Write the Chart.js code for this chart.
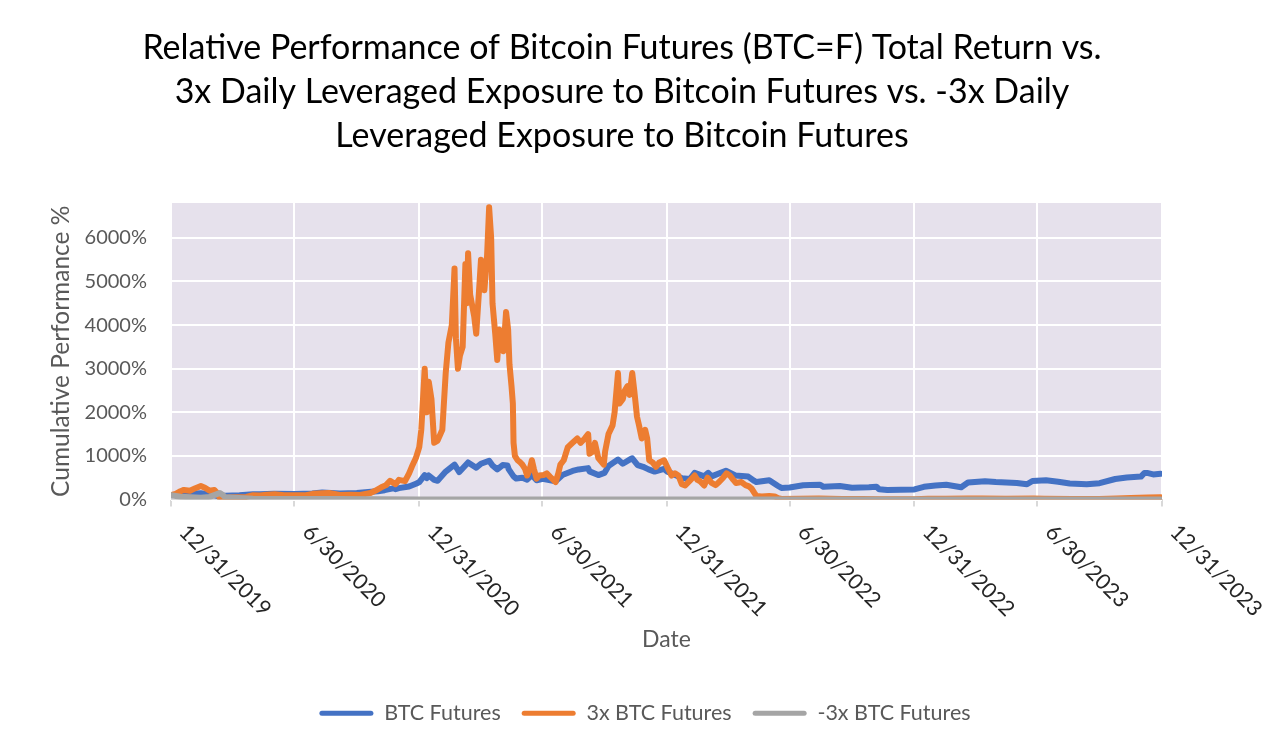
<!DOCTYPE html>
<html>
<head>
<meta charset="utf-8">
<script src="https://cdn.jsdelivr.net/npm/chart.js@4.4.1/dist/chart.umd.min.js"></script>
<style>
html,body{margin:0;padding:0;background:#ffffff;}
#wrap{width:1274px;height:742px;}
</style>
</head>
<body>
<div id="wrap"><canvas id="c" width="1274" height="742"></canvas></div>
<script>
const titleLines = [
  "Relative Performance of Bitcoin Futures (BTC=F) Total Return vs.",
  "3x Daily Leveraged Exposure to Bitcoin Futures vs. -3x Daily",
  "Leveraged Exposure to Bitcoin Futures"
];
const xTickLabels = ["12/31/2019","6/30/2020","12/31/2020","6/30/2021","12/31/2021","6/30/2022","12/31/2022","6/30/2023","12/31/2023"];
const yTickValues = [0,1000,2000,3000,4000,5000,6000];
const yAxisMax = 6800;
const seriesNames = ["BTC Futures","3x BTC Futures","-3x BTC Futures"];

const btcDates = ["2019-12-31","2020-01-14","2020-02-13","2020-02-26","2020-03-12","2020-03-20","2020-04-10","2020-04-30","2020-05-10","2020-05-31","2020-06-30","2020-07-26","2020-08-10","2020-09-05","2020-09-30","2020-10-21","2020-10-31","2020-11-10","2020-11-24","2020-11-26","2020-12-01","2020-12-16","2020-12-27","2020-12-31","2021-01-08","2021-01-11","2021-01-14","2021-01-22","2021-01-27","2021-02-08","2021-02-21","2021-02-28","2021-03-13","2021-03-25","2021-04-01","2021-04-13","2021-04-18","2021-04-25","2021-05-03","2021-05-10","2021-05-12","2021-05-19","2021-05-23","2021-06-01","2021-06-08","2021-06-15","2021-06-22","2021-07-01","2021-07-20","2021-07-30","2021-08-14","2021-08-23","2021-09-06","2021-09-08","2021-09-21","2021-09-30","2021-10-06","2021-10-20","2021-10-27","2021-11-08","2021-11-10","2021-11-18","2021-11-26","2021-12-04","2021-12-13","2021-12-27","2021-12-31","2022-01-10","2022-01-22","2022-02-03","2022-02-10","2022-02-24","2022-03-02","2022-03-07","2022-03-28","2022-04-11","2022-04-30","2022-05-09","2022-05-12","2022-05-31","2022-06-13","2022-06-18","2022-06-30","2022-07-20","2022-07-30","2022-08-14","2022-08-19","2022-09-12","2022-09-30","2022-10-25","2022-11-05","2022-11-09","2022-11-21","2022-12-31","2023-01-14","2023-01-31","2023-02-16","2023-03-10","2023-03-20","2023-04-14","2023-04-30","2023-05-31","2023-06-15","2023-06-23","2023-07-13","2023-07-31","2023-08-17","2023-09-11","2023-09-30","2023-10-23","2023-11-09","2023-11-30","2023-12-05","2023-12-09","2023-12-18","2023-12-29"];
const btcValues = [100,120,143,120,68,85,95,120,120,132,127,138,163,140,150,178,190,214,260,236,260,300,367,400,560,490,550,450,430,640,800,630,850,730,820,890,780,690,790,780,690,530,480,500,455,560,440,475,415,560,655,690,720,645,560,610,770,915,820,930,945,790,750,690,640,700,645,580,490,470,610,530,610,530,660,550,525,425,400,440,310,265,275,325,330,340,290,310,270,280,295,235,220,230,290,320,340,280,390,420,400,380,350,425,440,405,365,350,375,470,505,525,610,610,575,590];

const lev3Dates = ["2019-12-31","2020-01-07","2020-01-14","2020-01-19","2020-01-28","2020-02-05","2020-02-13","2020-02-19","2020-02-26","2020-03-04","2020-03-08","2020-03-12","2020-03-16","2020-03-25","2020-04-05","2020-04-20","2020-04-30","2020-05-10","2020-05-20","2020-06-01","2020-06-15","2020-06-30","2020-07-15","2020-07-27","2020-08-10","2020-08-20","2020-09-05","2020-09-20","2020-10-05","2020-10-20","2020-10-27","2020-11-05","2020-11-12","2020-11-18","2020-11-26","2020-12-01","2020-12-10","2020-12-16","2020-12-20","2020-12-26","2020-12-31","2021-01-03","2021-01-08","2021-01-11","2021-01-14","2021-01-18","2021-01-22","2021-01-27","2021-02-03","2021-02-08","2021-02-12","2021-02-17","2021-02-21","2021-02-23","2021-02-26","2021-03-01","2021-03-05","2021-03-09","2021-03-11","2021-03-13","2021-03-16","2021-03-22","2021-03-25","2021-03-30","2021-04-01","2021-04-06","2021-04-10","2021-04-13","2021-04-16","2021-04-18","2021-04-22","2021-04-25","2021-04-28","2021-05-01","2021-05-04","2021-05-08","2021-05-11","2021-05-13","2021-05-16","2021-05-18","2021-05-19","2021-05-21","2021-05-25","2021-05-29","2021-06-01","2021-06-05","2021-06-08","2021-06-12","2021-06-15","2021-06-18","2021-06-22","2021-06-26","2021-07-02","2021-07-07","2021-07-12","2021-07-20","2021-07-24","2021-07-27","2021-08-01","2021-08-07","2021-08-14","2021-08-21","2021-08-26","2021-09-01","2021-09-06","2021-09-08","2021-09-13","2021-09-16","2021-09-21","2021-09-29","2021-10-01","2021-10-06","2021-10-12","2021-10-15","2021-10-20","2021-10-22","2021-10-27","2021-10-30","2021-11-03","2021-11-06","2021-11-10","2021-11-13","2021-11-17","2021-11-20","2021-11-24","2021-11-29","2021-12-02","2021-12-05","2021-12-10","2021-12-15","2021-12-20","2021-12-27","2022-01-02","2022-01-07","2022-01-12","2022-01-17","2022-01-22","2022-01-27","2022-02-04","2022-02-10","2022-02-14","2022-02-18","2022-02-24","2022-03-01","2022-03-07","2022-03-13","2022-03-18","2022-03-24","2022-03-29","2022-04-03","2022-04-08","2022-04-12","2022-04-20","2022-04-26","2022-05-01","2022-05-05","2022-05-09","2022-05-12","2022-05-20","2022-05-31","2022-06-08","2022-06-13","2022-06-18","2022-07-15","2022-08-12","2022-09-15","2022-10-15","2022-11-10","2022-12-31","2023-01-20","2023-02-15","2023-03-20","2023-04-10","2023-05-15","2023-06-25","2023-07-10","2023-08-20","2023-09-30","2023-10-25","2023-11-15","2023-12-10","2023-12-29"];
const lev3Values = [100,130,190,220,200,260,310,270,200,220,150,30,25,45,50,60,100,90,110,120,100,95,95,130,145,150,105,110,105,150,200,280,330,430,350,450,420,600,750,950,1200,1600,3000,2000,2700,2300,1300,1350,1600,2900,3600,4000,5300,3700,3000,3300,3500,5400,4500,5650,4700,4200,3800,5000,5500,4800,5600,6700,6000,4500,3800,3200,3900,3600,3400,4300,3900,3100,2600,2200,1300,1000,900,850,800,700,550,700,900,700,480,550,560,600,520,400,600,800,900,1200,1300,1400,1300,1400,1500,1050,1100,1300,950,800,1100,1500,1700,2000,2900,2200,2300,2500,2600,2400,2900,2500,1900,1700,1400,1600,1400,900,850,750,850,900,700,550,600,550,350,320,450,550,450,420,320,500,380,330,400,500,600,550,450,380,400,330,300,250,150,80,70,80,70,30,12,15,22,12,10,7,7,15,18,22,25,18,25,20,12,12,25,35,45,50];

const inv3Dates = ["2019-12-31","2020-01-14","2020-02-13","2020-02-26","2020-03-12","2020-03-16","2020-03-20","2020-04-30","2020-06-30","2020-09-05","2020-10-31","2020-12-31","2021-06-30","2021-12-31","2022-06-30","2022-12-31","2023-06-30","2023-12-29"];
const inv3Values = [100,65,40,60,150,110,50,15,12,14,7,2,1,1,2,2,1,1];

const BASE = Date.UTC(2019, 11, 31);
const DAY = 86400000;
function isoToDay(s) { const p = s.split('-').map(Number); return (Date.UTC(p[0], p[1] - 1, p[2]) - BASE) / DAY; }
function mdyToDay(s) { const p = s.split('/').map(Number); return (Date.UTC(p[2], p[0] - 1, p[1]) - BASE) / DAY; }
function toPoints(dates, values) { return dates.map((d, i) => ({ x: isoToDay(d), y: values[i] })); }
const xTickValues = xTickLabels.map(mdyToDay);

const FONT = 'Lato';
const xLabelFontSize = 21.5;

const bgPlugin = {
  id: 'plotBg',
  beforeDraw(chart) {
    const { ctx, chartArea: a } = chart;
    ctx.save();
    ctx.fillStyle = '#ffffff';
    ctx.fillRect(0, 0, chart.width, chart.height);
    ctx.fillStyle = '#E6E1EC';
    ctx.fillRect(a.left, a.top, a.right - a.left, a.bottom - a.top);
    ctx.restore();
  }
};

const shiftPlugin = {
  id: 'shiftBlocks',
  afterLayout(chart) {
    const t = chart.titleBlock;
    if (t) { t.left += 41; t.right += 41; }
    const l = chart.legend;
    if (l) { l.left += 64; l.right += 64; }
  }
};

const xLabelPlugin = {
  id: 'slantedXLabels',
  afterDraw(chart) {
    const xs = chart.scales.x;
    const ctx = chart.ctx;
    ctx.save();
    ctx.font = xLabelFontSize + 'px ' + FONT;
    ctx.fillStyle = '#262626';
    ctx.textAlign = 'left';
    ctx.textBaseline = 'middle';
    xs.ticks.forEach((t, i) => {
      const px = xs.getPixelForValue(t.value);
      ctx.save();
      ctx.translate(px + 12, xs.top + 29);
      ctx.rotate(Math.PI / 4);
      ctx.fillText(xTickLabels[i], 0, 0);
      ctx.restore();
    });
    ctx.restore();
  }
};

const colors = ['#4472C4', '#ED7D31', '#A5A5A5'];

new Chart(document.getElementById('c'), {
  type: 'line',
  data: {
    datasets: [
      { label: seriesNames[0], data: toPoints(btcDates, btcValues), borderColor: colors[0], backgroundColor: colors[0], borderWidth: 6, pointRadius: 0, order: 3, borderJoinStyle: 'round', borderCapStyle: 'round' },
      { label: seriesNames[1], data: toPoints(lev3Dates, lev3Values), borderColor: colors[1], backgroundColor: colors[1], borderWidth: 6, pointRadius: 0, order: 2, borderJoinStyle: 'round', borderCapStyle: 'round' },
      { label: seriesNames[2], data: toPoints(inv3Dates, inv3Values), borderColor: colors[2], backgroundColor: colors[2], borderWidth: 6, pointRadius: 0, order: 1, borderJoinStyle: 'round', borderCapStyle: 'round' }
    ]
  },
  options: {
    responsive: false,
    animation: false,
    devicePixelRatio: 1,
    layout: { padding: { left: 0, right: 112, top: 0, bottom: 8 } },
    plugins: {
      title: {
        display: true,
        text: titleLines,
        color: '#000000',
        font: { family: FONT, size: 34, weight: 'normal', lineHeight: 44 / 34 },
        padding: { top: 26, bottom: 45 }
      },
      legend: {
        position: 'bottom',
        labels: {
          boxWidth: 54,
          boxHeight: 5,
          useBorderRadius: true,
          borderRadius: 2.5,
          color: '#595959',
          font: { family: FONT, size: 21.5 },
          padding: 21,
          sort: (a, b) => a.datasetIndex - b.datasetIndex,
          generateLabels(chart) {
            return Chart.defaults.plugins.legend.labels.generateLabels(chart).map(it => {
              const c = colors[it.datasetIndex];
              return Object.assign(it, { fillStyle: c, strokeStyle: c, lineWidth: 0 });
            });
          }
        }
      },
      tooltip: { enabled: false }
    },
    scales: {
      x: {
        type: 'linear',
        min: xTickValues[0],
        max: xTickValues[xTickValues.length - 1],
        afterBuildTicks(scale) { scale.ticks = xTickValues.map(v => ({ value: v })); },
        afterFit(scale) { scale.height = 182; },
        ticks: { display: false },
        grid: { color: '#ffffff', lineWidth: 2, tickColor: '#D9D9D9', tickLength: 7, drawTicks: true },
        border: { display: true, color: '#D9D9D9', width: 1 },
        title: { display: true, text: 'Date', color: '#595959', font: { family: FONT, size: 23 }, padding: { top: 0, bottom: 28 } }
      },
      y: {
        min: yTickValues[0],
        max: yAxisMax,
        afterBuildTicks(scale) { scale.ticks = yTickValues.map(v => ({ value: v })); },
        afterFit(scale) { scale.width = 171; },
        ticks: {
          autoSkip: false,
          callback: v => v + '%',
          color: '#595959',
          font: { family: FONT, size: 20 },
          padding: 24
        },
        grid: { color: '#ffffff', lineWidth: 2, drawTicks: false },
        border: { display: false },
        title: { display: true, text: 'Cumulative Performance %', color: '#595959', font: { family: FONT, size: 24.5 }, padding: { top: 46, bottom: 0 } }
      }
    }
  },
  plugins: [bgPlugin, shiftPlugin, xLabelPlugin]
});
</script>
</body>
</html>
